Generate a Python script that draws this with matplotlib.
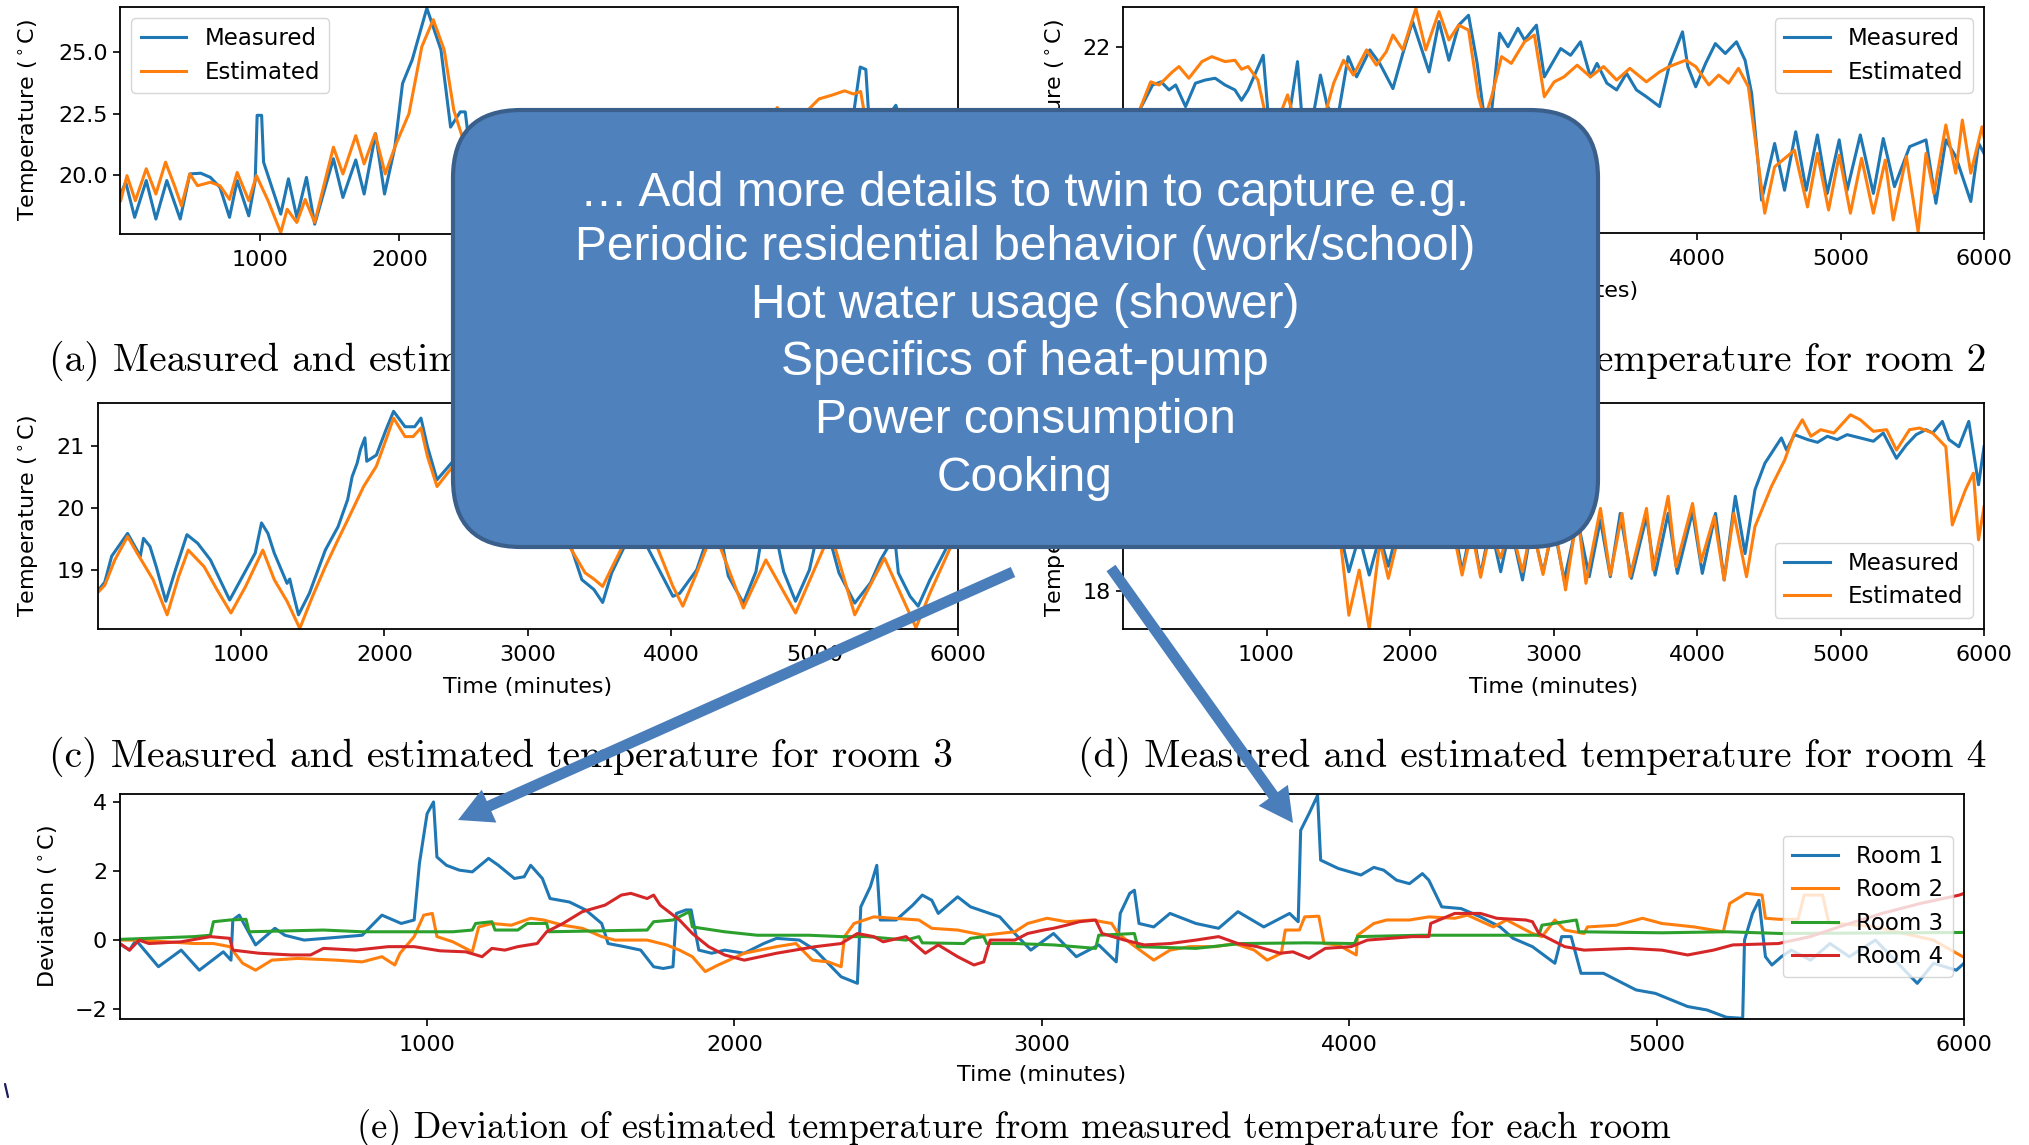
import matplotlib
matplotlib.use("Agg")
import matplotlib.pyplot as plt
from matplotlib.patches import FancyBboxPatch, FancyArrow

W, H = 2029, 1145

# ---------------- data ----------------
# (a) room 1
a_meas_t = [5, 41, 105, 188, 257, 335, 431, 500, 578, 647, 716, 784, 839, 922, 968, 982, 1014, 1028, 1151, 1206,
            1266, 1335, 1394, 1528, 1596, 1688, 1748, 1830, 1894, 1968, 2023, 2092, 2197, 2298, 2367, 2436, 2472,
            2505, 2600, 2750, 2900, 3050, 3200, 3350, 3500, 3650, 3800, 3950, 4100, 4250, 4400, 4550, 4700, 4850,
            5000, 5150, 5250, 5300, 5340, 5360, 5450, 5555, 5600, 5750, 5900, 6000]
a_meas_T = [19.22, 19.70, 18.27, 19.77, 18.20, 19.77, 18.20, 20.04, 20.07, 19.90, 19.49, 18.27, 19.77, 18.33, 19.77,
            22.43, 22.43, 20.52, 18.40, 19.84, 18.27, 19.90, 17.99, 20.66, 19.08, 20.61, 19.22, 21.68, 19.22, 21.13,
            23.73, 24.69, 26.80, 25.10, 21.95, 22.57, 22.57, 21.00, 20.5, 19.3, 20.2, 19.0, 20.0, 19.2, 20.3, 19.0,
            20.4, 19.5, 21.0, 20.2, 21.4, 20.8, 22.2, 21.8, 22.3, 22.0, 22.4, 24.4, 24.3, 22.5, 22.0, 22.84, 22.0,
            21.5, 21.0, 21.3]
a_est_t = [5, 50, 110, 188, 257, 326, 394, 440, 500, 555, 647, 716, 784, 839, 922, 977, 1060, 1151, 1197, 1266,
           1326, 1394, 1528, 1596, 1688, 1748, 1826, 1899, 1977, 2069, 2161, 2243, 2321, 2390, 2459, 2600, 2750,
           2900, 3050, 3200, 3350, 3500, 3650, 3800, 3950, 4100, 4250, 4400, 4550, 4706, 4760, 4900, 5005, 5096,
           5188, 5250, 5303, 5330, 5450, 5600, 5800, 6000]
a_est_T = [18.95, 19.97, 18.95, 20.25, 19.22, 20.52, 19.50, 18.74, 20.04, 19.56, 19.70, 19.56, 19.00, 20.10, 18.95,
           19.97, 18.95, 17.65, 18.60, 18.06, 19.00, 18.06, 21.13, 20.04, 21.60, 20.45, 21.68, 20.04, 21.27, 22.50,
           25.23, 26.33, 25.10, 22.64, 21.40, 20.3, 19.6, 20.0, 19.2, 19.8, 19.3, 20.0, 19.2, 20.1, 19.6, 20.6,
           20.3, 21.0, 21.2, 22.75, 22.3, 22.5, 23.1, 23.25, 23.43, 23.3, 23.4, 22.5, 22.2, 22.3, 21.6, 21.2]

# (b) room 2
b_meas_t = [0, 60, 115, 206, 266, 321, 367, 436, 505, 573, 642, 711, 780, 826, 872, 977, 1009, 1080, 1150, 1216,
            1248, 1310, 1376, 1422, 1490, 1569, 1628, 1720, 1789, 1881, 1950, 2018, 2133, 2202, 2271, 2339, 2408,
            2468, 2523, 2570, 2624, 2683, 2752, 2798, 2881, 2936, 3050, 3119, 3188, 3257, 3303, 3372, 3440, 3509,
            3578, 3647, 3739, 3807, 3899, 3936, 3991, 4060, 4128, 4197, 4275, 4335, 4381, 4450, 4541, 4610, 4688,
            4761, 4839, 4908, 4991, 5046, 5138, 5229, 5298, 5376, 5482, 5596, 5665, 5734, 5803, 5908, 5963, 6000]
b_meas_T = [19.9, 20.2, 20.59, 21.15, 21.22, 21.04, 21.15, 20.67, 21.19, 21.26, 21.30, 21.15, 21.04, 20.81, 21.04,
            21.81, 20.59, 20.0, 20.3, 21.67, 20.4, 20.2, 21.37, 20.7, 20.3, 21.78, 21.33, 21.93, 21.63, 21.07, 21.85,
            22.56, 21.44, 22.56, 21.70, 22.48, 22.70, 21.63, 20.3, 20.6, 22.30, 22.00, 22.41, 22.15, 22.48, 21.33,
            21.96, 21.81, 22.11, 21.33, 21.63, 21.19, 21.04, 21.41, 21.04, 20.89, 20.67, 21.59, 22.33, 21.56, 21.11,
            21.63, 22.07, 21.85, 22.11, 21.70, 20.96, 18.59, 19.85, 18.81, 20.11, 18.81, 20.04, 18.74, 19.93, 18.81,
            20.04, 18.74, 19.96, 18.89, 19.78, 19.93, 18.52, 19.93, 19.56, 18.56, 19.85, 19.63]
b_est_t = [0, 60, 115, 193, 252, 344, 390, 459, 550, 619, 711, 780, 826, 872, 940, 986, 1060, 1147, 1200, 1300,
           1400, 1468, 1537, 1606, 1697, 1766, 1835, 1881, 1950, 2041, 2110, 2202, 2271, 2339, 2408, 2477, 2520,
           2569, 2638, 2706, 2798, 2867, 2936, 3005, 3073, 3165, 3257, 3349, 3440, 3532, 3647, 3739, 3807, 3922,
           3991, 4083, 4151, 4220, 4289, 4358, 4472, 4541, 4679, 4770, 4839, 4917, 4991, 5069, 5147, 5229, 5312,
           5367, 5459, 5541, 5596, 5651, 5734, 5803, 5849, 5908, 5986, 6000]
b_est_T = [19.8, 20.1, 20.59, 21.22, 21.15, 21.44, 21.56, 21.30, 21.67, 21.78, 21.67, 21.70, 21.50, 21.56, 21.26,
           20.59, 20.2, 20.93, 20.3, 20.1, 20.4, 21.19, 21.70, 21.37, 21.93, 21.59, 21.89, 22.26, 21.93, 22.85,
           21.93, 22.78, 22.15, 22.48, 22.37, 20.89, 20.4, 20.89, 21.78, 21.63, 22.11, 22.26, 20.89, 21.22, 21.33,
           21.59, 21.33, 21.56, 21.26, 21.52, 21.22, 21.44, 21.56, 21.70, 21.56, 21.15, 21.37, 21.19, 21.52, 21.11,
           18.30, 19.33, 19.70, 18.44, 19.63, 18.37, 19.59, 18.30, 19.52, 18.30, 19.48, 18.15, 19.56, 17.89, 19.63,
           18.74, 20.26, 19.19, 20.37, 19.19, 20.22, 20.0]

# (c) room 3
c_meas_t = [9, 50, 98, 209, 298, 320, 365, 409, 476, 543, 623, 698, 787, 921, 1010, 1099, 1143, 1188, 1232, 1321,
            1340, 1360, 1401, 1477, 1588, 1677, 1744, 1775, 1810, 1833, 1864, 1877, 1944, 2011, 2064, 2144, 2211,
            2255, 2300, 2367, 2478, 2600, 2750, 2900, 3050, 3200, 3307, 3377, 3461, 3522, 3585, 3668, 3750, 3831,
            4012, 4060, 4178, 4233, 4300, 4360, 4398, 4503, 4591, 4620, 4690, 4747, 4784, 4867, 4964, 5000, 5060,
            5120, 5170, 5280, 5390, 5460, 5515, 5540, 5565, 5584, 5666, 5722, 5805, 5914, 6000]
c_meas_T = [18.68, 18.8, 19.22, 19.59, 19.22, 19.51, 19.38, 19.05, 18.49, 19.00, 19.57, 19.43, 19.16, 18.51, 18.89,
            19.27, 19.76, 19.59, 19.27, 18.78, 18.85, 18.65, 18.27, 18.62, 19.32, 19.70, 20.14, 20.51, 20.73, 20.95,
            21.14, 20.76, 20.86, 21.27, 21.57, 21.32, 21.32, 21.46, 21.00, 20.46, 20.76, 20.95, 20.6, 20.3, 20.45,
            20.0, 19.33, 18.84, 18.68, 18.47, 18.95, 19.35, 19.85, 19.38, 18.57, 18.62, 19.0, 19.38, 19.8, 19.38,
            18.9, 18.46, 18.97, 19.38, 19.9, 19.38, 18.97, 18.49, 19.0, 19.38, 19.8, 19.38, 18.95, 18.46, 18.79,
            19.16, 19.38, 19.6, 19.38, 18.95, 18.57, 18.41, 18.84, 19.33, 19.75]
c_est_t = [9, 50, 120, 209, 276, 387, 485, 565, 632, 743, 832, 930, 1032, 1152, 1232, 1321, 1410, 1499, 1588, 1677,
           1744, 1855, 1944, 2011, 2064, 2144, 2200, 2255, 2300, 2367, 2478, 2600, 2750, 2900, 3050, 3200, 3290,
           3400, 3461, 3522, 3600, 3660, 3780, 3900, 4012, 4081, 4178, 4250, 4300, 4340, 4503, 4660, 4867, 5059,
           5100, 5140, 5280, 5487, 5707, 5804, 5941, 6000]
c_est_T = [18.65, 18.75, 19.16, 19.54, 19.27, 18.84, 18.27, 18.89, 19.32, 19.05, 18.68, 18.30, 18.73, 19.32, 18.84,
           18.49, 18.05, 18.57, 19.05, 19.49, 19.81, 20.35, 20.68, 21.11, 21.46, 21.16, 21.16, 21.30, 20.84, 20.35,
           20.68, 20.8, 20.4, 20.1, 20.2, 19.8, 19.38, 18.95, 18.85, 18.73, 19.1, 19.38, 19.75, 19.38, 18.73, 18.41,
           18.95, 19.38, 19.6, 19.38, 18.38, 19.16, 18.30, 19.33, 19.6, 19.38, 18.27, 19.19, 18.06, 18.62, 19.33,
           19.55]

# (d) room 4
d_meas_t = [0, 300, 600, 900, 1200, 1450, 1520, 1574, 1646, 1716, 1790, 1849, 1920, 2050, 2200, 2300, 2363, 2430,
            2492, 2560, 2632, 2700, 2784, 2850, 2927, 3000, 3075, 3167, 3249, 3327, 3396, 3465, 3543, 3648, 3708,
            3799, 3863, 3969, 4037, 4129, 4189, 4267, 4335, 4404, 4473, 4588, 4624, 4679, 4771, 4840, 4908, 4977,
            5046, 5138, 5229, 5298, 5390, 5458, 5527, 5596, 5642, 5710, 5756, 5825, 5894, 5962, 6000]
d_meas_T = [19.5, 19.2, 19.6, 19.1, 19.5, 19.2, 19.0, 18.35, 19.0, 18.29, 19.0, 18.45, 19.2, 19.4, 19.1, 19.3, 18.35,
            19.2, 18.29, 19.2, 18.35, 19.2, 18.2, 19.2, 18.33, 19.2, 18.2, 19.3, 18.26, 19.29, 18.26, 19.41, 18.23,
            19.35, 18.29, 19.41, 18.32, 19.44, 18.32, 19.41, 18.2, 19.72, 18.68, 19.84, 20.32, 20.78, 20.56, 20.84,
            20.75, 20.7, 20.81, 20.75, 20.84, 20.78, 20.72, 20.87, 20.41, 20.65, 20.84, 20.93, 20.87, 21.08, 20.75,
            20.62, 21.08, 19.93, 20.62]
d_est_t = [0, 300, 600, 900, 1200, 1450, 1520, 1574, 1646, 1716, 1790, 1849, 1920, 2050, 2200, 2300, 2363, 2430,
           2492, 2560, 2632, 2700, 2784, 2850, 2927, 3000, 3084, 3167, 3226, 3327, 3396, 3478, 3533, 3648, 3694,
           3799, 3854, 3969, 4028, 4120, 4189, 4257, 4345, 4404, 4519, 4611, 4679, 4734, 4794, 4862, 4954, 5069,
           5138, 5229, 5321, 5390, 5481, 5550, 5642, 5734, 5779, 5871, 5926, 5962, 6000]
d_est_T = [19.3, 19.0, 19.4, 18.9, 19.3, 19.0, 18.8, 17.56, 18.38, 17.32, 18.9, 18.23, 19.0, 19.3, 18.9, 19.1, 18.29,
           19.1, 18.25, 19.1, 18.6, 19.2, 18.35, 19.2, 18.3, 19.3, 18.02, 19.41, 18.14, 19.5, 18.29, 19.41, 18.26,
           19.5, 18.38, 19.72, 18.44, 19.59, 18.53, 19.35, 18.2, 19.41, 18.26, 19.17, 19.90, 20.38, 20.87, 21.11,
           20.81, 20.93, 20.87, 21.2, 21.11, 20.90, 20.93, 20.56, 20.93, 20.96, 20.87, 20.62, 19.2, 19.84, 20.14,
           18.93, 19.53]

# (e) deviations
e_r1_t = [0, 32, 53, 126, 200, 259, 337, 362, 368, 389, 442, 505, 537, 600, 789, 853, 916, 958, 975, 1000,
          1021, 1032, 1063, 1105, 1147, 1200, 1232, 1284, 1316, 1337, 1375, 1400, 1463, 1516, 1568, 1589, 1642,
          1695, 1737, 1768, 1800, 1811, 1842, 1859, 1884, 1926, 1968, 2032, 2095, 2137, 2211, 2263, 2347, 2400,
          2411, 2442, 2463, 2474, 2526, 2579, 2611, 2642, 2663, 2726, 2768, 2863, 2912, 2964, 3038, 3112, 3185,
          3242, 3255, 3286, 3301, 3316, 3364, 3417, 3501, 3575, 3638, 3722, 3806, 3834, 3842, 3869, 3897, 3907,
          3964, 4038, 4080, 4112, 4154, 4196, 4238, 4259, 4301, 4364, 4427, 4491, 4533, 4596, 4669, 4691, 4722,
          4754, 4827, 4891, 4933, 4996, 5101, 5164, 5227, 5280, 5286, 5312, 5333, 5354, 5375, 5406, 5438, 5501,
          5564, 5627, 5712, 5785, 5848, 5901, 5975, 6000]
e_r1 = [-0.1, -0.29, 0, -0.77, -0.29, -0.87, -0.34, -0.58, 0.58, 0.72, -0.14, 0.34, 0.14, 0, 0.14, 0.72, 0.48,
        0.58, 2.21, 3.65, 3.99, 2.4, 2.16, 2.02, 1.97, 2.36, 2.16, 1.78, 1.83, 2.16, 1.78, 1.2, 1.1, 0.87, 0.48,
        -0.1, -0.19, -0.29, -0.77, -0.82, -0.77, 0.77, 0.87, 0.87, -0.29, -0.38, -0.29, -0.38, -0.1, 0.05, 0,
        -0.29, -1.06, -1.25, 0.96, 1.54, 2.16, 0.58, 0.58, 1.0, 1.3, 1.15, 0.77, 1.25, 0.96, 0.67, 0.19, -0.29,
        0.19, -0.48, -0.14, -0.63, 0.77, 1.35, 1.44, 0.48, 0.38, 0.77, 0.48, 0.34, 0.82, 0.38, 0.77, 0.53, 3.17,
        3.65, 4.18, 2.31, 2.07, 1.88, 2.1, 2.02, 1.73, 1.63, 1.92, 1.73, 0.96, 0.91, 0.67, 0.38, 0.05, -0.19,
        -0.67, 0.1, 0.1, -0.96, -0.96, -1.25, -1.44, -1.54, -1.92, -2.02, -2.23, -2.26, 0, 0.77, 1.15, -0.48,
        -0.72, -0.48, -0.29, -0.58, -0.1, -0.48, 0, -0.67, -1.25, -0.67, -0.87, -0.67]
e_r2_t = [0, 63, 242, 305, 358, 400, 442, 495, 579, 705, 789, 853, 895, 912, 958, 989, 1017, 1032, 1084, 1147,
          1168, 1211, 1274, 1337, 1379, 1442, 1505, 1568, 1611, 1716, 1779, 1821, 1863, 1905, 1947, 2032, 2137,
          2200, 2253, 2305, 2347, 2358, 2389, 2453, 2600, 2642, 2726, 2811, 2912, 2954, 3017, 3080, 3164, 3227,
          3248, 3290, 3333, 3364, 3417, 3480, 3564, 3627, 3691, 3733, 3779, 3792, 3838, 3855, 3901, 3918, 3964,
          4023, 4027, 4080, 4122, 4196, 4259, 4343, 4385, 4469, 4512, 4596, 4627, 4669, 4701, 4764, 4775, 4869,
          4954, 5017, 5122, 5217, 5238, 5291, 5343, 5354, 5400, 5460, 5480, 5540, 5560, 5700, 5800, 5900, 6000]
e_r2 = [0, 0, -0.1, -0.1, -0.19, -0.67, -0.87, -0.58, -0.53, -0.58, -0.63, -0.48, -0.72, -0.38, 0.1, 0.72, 0.77,
        0.1, -0.05, -0.34, 0.38, 0.48, 0.43, 0.63, 0.58, 0.43, 0.34, 0.1, 0, 0, -0.14, -0.29, -0.48, -0.91, -0.72,
        -0.38, -0.19, -0.1, -0.58, -0.63, -0.77, 0.1, 0.48, 0.67, 0.58, 0.34, 0.29, 0.14, 0.24, 0.48, 0.63, 0.53,
        0.58, 0.48, 0.19, -0.1, -0.38, -0.58, -0.29, -0.19, -0.19, -0.1, -0.29, -0.58, -0.38, 0.29, 0.29, 0.67,
        0.69, -0.1, -0.14, -0.43, 0.14, 0.48, 0.58, 0.58, 0.67, 0.63, 0.72, 0.38, 0.58, 0.19, 0.1, 0.58, 0.29,
        0.19, 0.38, 0.43, 0.63, 0.48, 0.38, 0.24, 1.06, 1.35, 1.3, 0.63, 0.6, 0.6, 1.3, 1.3, 0.5, 0.4, 0.2, 0.0,
        -0.5]
e_r3_t = [0, 242, 295, 305, 358, 411, 421, 663, 789, 1084, 1147, 1158, 1211, 1221, 1295, 1326, 1389, 1396, 1716,
          1737, 1800, 1853, 1863, 1968, 2074, 2242, 2347, 2432, 2558, 2600, 2611, 2747, 2768, 2811, 2821, 2912,
          3038, 3175, 3185, 3301, 3312, 3501, 3648, 3859, 4017, 4027, 4238, 4427, 4617, 4627, 4739, 4747, 5017,
          5227, 5406, 6000]
e_r3 = [0.02, 0.1, 0.14, 0.53, 0.58, 0.6, 0.24, 0.29, 0.24, 0.24, 0.29, 0.48, 0.53, 0.29, 0.29, 0.48, 0.48, 0.24,
        0.29, 0.53, 0.58, 0.82, 0.38, 0.24, 0.14, 0.14, 0.1, 0.1, 0, 0.1, -0.08, -0.1, 0.05, 0.1, -0.1, -0.1, -0.14,
        -0.24, 0.14, 0.19, -0.19, -0.24, -0.1, -0.08, -0.1, 0.1, 0.14, 0.14, 0.14, 0.43, 0.58, 0.24, 0.21, 0.24,
        0.19, 0.22]
e_r4_t = [0, 32, 63, 95, 200, 295, 358, 368, 453, 558, 621, 663, 768, 874, 958, 1042, 1126, 1179, 1211, 1253,
          1295, 1358, 1389, 1442, 1505, 1579, 1632, 1663, 1716, 1737, 1758, 1821, 1863, 1916, 1968, 2032, 2137,
          2263, 2347, 2400, 2453, 2484, 2558, 2621, 2663, 2726, 2779, 2811, 2832, 2912, 2954, 3006, 3038, 3080,
          3122, 3175, 3196, 3269, 3333, 3417, 3501, 3575, 3638, 3701, 3775, 3817, 3869, 3922, 4006, 4059, 4133,
          4206, 4259, 4265, 4343, 4385, 4427, 4480, 4575, 4596, 4617, 4701, 4764, 4912, 5017, 5101, 5185, 5248,
          5396, 5500, 5600, 5733, 5859, 5985, 6000]
e_r4 = [-0.1, -0.29, 0, -0.1, -0.05, 0.1, 0.05, -0.29, -0.38, -0.43, -0.43, -0.24, -0.29, -0.19, -0.19, -0.31,
        -0.34, -0.48, -0.24, -0.29, -0.19, -0.1, 0.24, 0.48, 0.82, 1.01, 1.3, 1.35, 1.2, 1.3, 1.01, 0.58, 0.19,
        -0.19, -0.43, -0.58, -0.38, -0.19, -0.1, 0.19, 0.1, -0.05, 0.1, -0.38, -0.14, -0.48, -0.72, -0.63, 0, 0,
        0.19, 0.29, 0.34, 0.43, 0.53, 0.58, 0.19, 0, -0.14, -0.1, 0, 0.1, -0.1, -0.19, -0.38, -0.34, -0.53, -0.24,
        -0.19, 0, 0.05, 0.1, 0.1, 0.48, 0.77, 0.77, 0.77, 0.63, 0.58, 0.53, 0.19, -0.19, -0.29, -0.24, -0.29,
        -0.43, -0.29, -0.14, -0.1, 0.1, 0.4, 0.77, 1.06, 1.3, 1.35]

x_ticks = [1000, 2000, 3000, 4000, 5000, 6000]
room_labels = ["Room 1", "Room 2", "Room 3", "Room 4"]
series_labels = ["Measured", "Estimated"]
captions = ["(a) Measured and estimated temperature for room 1",
            "(b) Measured and estimated temperature for room 2",
            "(c) Measured and estimated temperature for room 3",
            "(d) Measured and estimated temperature for room 4",
            "(e) Deviation of estimated temperature from measured temperature for each room"]
box_lines = ["\u2026 Add more details to twin to capture e.g.",
             "Periodic residential behavior (work/school)",
             "Hot water usage (shower)",
             "Specifics of heat-pump",
             "Power consumption",
             "Cooking"]

# ---------------- styling ----------------
plt.rcParams.update({
    "font.family": "DejaVu Sans",
    "font.size": 16,
    "axes.linewidth": 1.3,
    "xtick.major.size": 5,
    "ytick.major.size": 5,
    "xtick.major.width": 1.2,
    "ytick.major.width": 1.2,
    "xtick.major.pad": 6.5,
    "ytick.major.pad": 4,
    "legend.fontsize": 16.5,
    "legend.labelspacing": 0.45,
})
BLUE, ORANGE, GREEN, RED = "#1f77b4", "#ff7f0e", "#2ca02c", "#d62728"
LW = 2.2
YLAB = "Temperature ($^\\circ$C)"

fig = plt.figure(figsize=(W / 100, H / 100), dpi=100)
fig.patch.set_facecolor("white")


def add_ax(l, t, r, b):
    return fig.add_axes([l / W, 1 - b / H, (r - l) / W, (b - t) / H])


def temp_panel(box, mt, mT, et, eT, ylim, yticks, legend_loc, ylab_x,
               xticklabels, yticklabels, show_xlabel=True):
    ax = add_ax(*box)
    ax.plot(mt, mT, color=BLUE, lw=LW, label=series_labels[0])
    ax.plot(et, eT, color=ORANGE, lw=LW, label=series_labels[1])
    ax.set_xlim(0, 6000)
    ax.set_ylim(*ylim)
    ax.set_xticks(x_ticks)
    ax.set_xticklabels(xticklabels)
    ax.set_yticks(yticks)
    ax.set_yticklabels(yticklabels)
    if show_xlabel:
        ax.set_xlabel("Time (minutes)", va="center")
        ax.xaxis.set_label_coords(0.5, -0.258)
    ax.set_ylabel(YLAB, va="center")
    ax.yaxis.set_label_coords(ylab_x, 0.5)
    if legend_loc:
        ax.legend(loc=legend_loc)
    return ax


all_x = [str(v) for v in x_ticks]
# tick labels that sit under the callout box are left blank (they are covered in the slide)
axA = temp_panel((120, 6.7, 958, 234), a_meas_t, a_meas_T, a_est_t, a_est_T,
                 (17.59, 26.86), [20.0, 22.5, 25.0], "upper left", -0.109,
                 all_x[:2] + [""] * 4, ["20.0", "22.5", "25.0"], show_xlabel=False)
axB = temp_panel((1123, 6.7, 1984, 233), b_meas_t, b_meas_T, b_est_t, b_est_T,
                 (17.86, 22.89), [18, 20, 22], "upper right", -0.078,
                 [""] * 3 + all_x[3:], ["", "", "22"])
axC = temp_panel((97.6, 403.3, 958, 629), c_meas_t, c_meas_T, c_est_t, c_est_T,
                 (18.04, 21.70), [19, 20, 21], None, -0.080,
                 all_x, ["19", "20", "21"])
axD = temp_panel((1123, 402.7, 1984, 629), d_meas_t, d_meas_T, d_est_t, d_est_T,
                 (17.31, 21.42), [18, 19, 20, 21], "lower right", -0.078,
                 all_x, ["18", "", "", ""])

axE = add_ax(119.7, 794, 1964, 1019)
for t, d, c, lab in zip([e_r1_t, e_r2_t, e_r3_t, e_r4_t], [e_r1, e_r2, e_r3, e_r4],
                        [BLUE, ORANGE, GREEN, RED], room_labels):
    axE.plot(t, d, color=c, lw=LW, label=lab)
axE.set_xlim(0, 6000)
axE.set_ylim(-2.28, 4.22)
axE.set_xticks(x_ticks)
axE.set_yticks([-2, 0, 2, 4])
axE.set_xlabel("Time (minutes)", va="center")
axE.xaxis.set_label_coords(0.5, -0.249)
axE.set_ylabel("Deviation ($^\\circ$C)", va="center")
axE.yaxis.set_label_coords(-0.0386, 0.5)
axE.legend(loc="center right")

# captions (LaTeX-like serif)
cap_kw = dict(family="cmr10", va="center")
fig.text(49 / W, 1 - 361 / H, captions[0], ha="left", fontsize=28.5, **cap_kw)
fig.text(1986 / W, 1 - 361 / H, captions[1], ha="right", fontsize=28.5, **cap_kw)
fig.text(49 / W, 1 - 757 / H, captions[2], ha="left", fontsize=28.5, **cap_kw)
fig.text(1986 / W, 1 - 757 / H, captions[3], ha="right", fontsize=28.5, **cap_kw)
fig.text(1014 / W, 1 - 1129 / H, captions[4], ha="center", fontsize=26.3, **cap_kw)

# ---------------- slide overlay: callout box and arrows ----------------
ov = fig.add_axes([0, 0, 1, 1], zorder=10)
ov.set_xlim(0, W)
ov.set_ylim(H, 0)
ov.axis("off")
ov.patch.set_alpha(0)

box = FancyBboxPatch((453, 110), 1598 - 453, 547 - 110,
                     boxstyle="round,pad=0,rounding_size=68",
                     fc="#4F81BD", ec="#3A5F8B", lw=3)
ov.add_patch(box)
for s, yb in zip(box_lines, [206, 260, 318, 375, 433, 491]):
    ov.text(1025, yb, s, ha="center", va="baseline", color="white",
            fontsize=34.5, family="Liberation Sans")

for (x0, y0), (x1, y1) in [((1013, 572), (458, 820)), ((1111, 568), (1293, 823))]:
    ov.add_patch(FancyArrow(x0, y0, x1 - x0, y1 - y0, width=11, head_width=36,
                            head_length=34, length_includes_head=True,
                            fc="#4A7EBB", ec="none"))

# small stray mark at the lower-left of the slide
ov.plot([5, 8], [1084, 1097], color="#1b1b5e", lw=1.6, solid_capstyle="round")

fig.savefig("out.png", dpi=100, facecolor="white")
